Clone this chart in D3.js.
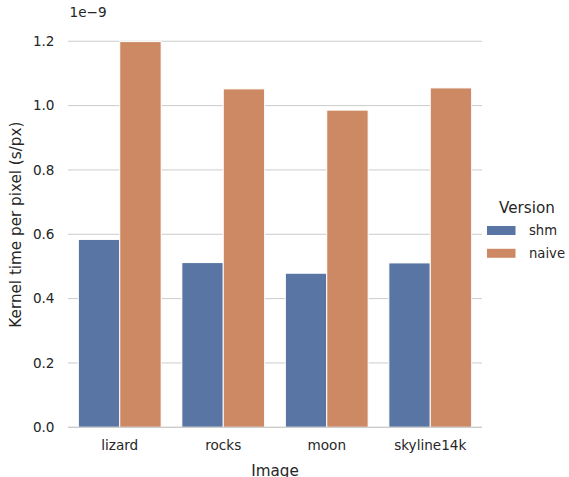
<!DOCTYPE html>
<html>
<head>
<meta charset="utf-8">
<script src="https://cdn.jsdelivr.net/npm/d3@7"></script>
<style>
  body { margin: 0; background: #fff; overflow: hidden; }
  svg { font-family: "DejaVu Sans", sans-serif; display: block; }
</style>
</head>
<body>
<svg id="chart" width="569" height="477"></svg>
<script>
// Kernel time per pixel, in units of 1e-9 s/px
const images = ["lizard", "rocks", "moon", "skyline14k"];
const versions = ["shm", "naive"];
const shmValues = [0.584, 0.512, 0.479, 0.511];
const naiveValues = [1.199, 1.052, 0.986, 1.055];
const yTicks = [0.0, 0.2, 0.4, 0.6, 0.8, 1.0, 1.2];
const versionColors = ["#5975a4", "#cc8963"];

const rows = images.flatMap((img, i) => [
  { image: img, version: "shm", value: shmValues[i] },
  { image: img, version: "naive", value: naiveValues[i] }
]);

const svg = d3.select("#chart");
const plotLeft = 68, plotRight = 482, plotBottom = 427.3;
const yMax = 1.26;
const plotTop = plotBottom - yMax * 321.7;

const x = d3.scaleBand().domain(images).range([plotLeft, plotRight]).paddingInner(0.2).paddingOuter(0.1);
const xSub = d3.scaleBand().domain(versions).range([0, x.bandwidth()]);
const y = d3.scaleLinear().domain([0, yMax]).range([plotBottom, plotTop]);
const color = d3.scaleOrdinal().domain(versions).range(versionColors);

const tickFont = 13.6, labelFont = 15.2;

// horizontal grid
svg.append("g").selectAll("line").data(yTicks).join("line")
  .attr("x1", plotLeft).attr("x2", plotRight)
  .attr("y1", d => y(d)).attr("y2", d => y(d))
  .attr("stroke", "#cccccc").attr("stroke-width", 1);

// bars
svg.append("g").selectAll("rect").data(rows).join("rect")
  .attr("x", d => x(d.image) + xSub(d.version))
  .attr("y", d => y(d.value))
  .attr("width", xSub.bandwidth())
  .attr("height", d => y(0) - y(d.value))
  .attr("fill", d => color(d.version))
  .attr("stroke", "#ffffff").attr("stroke-width", 1);

// bottom spine
svg.append("line").attr("x1", plotLeft).attr("x2", plotRight)
  .attr("y1", plotBottom).attr("y2", plotBottom)
  .attr("stroke", "#cccccc").attr("stroke-width", 1.2);

// y axis (no spine, no tick marks)
const yAxis = d3.axisLeft(y).tickValues(yTicks).tickFormat(d3.format(".1f")).tickSize(0).tickPadding(13.5);
const gy = svg.append("g").attr("transform", `translate(${plotLeft},0)`).call(yAxis);
gy.select(".domain").remove();
gy.selectAll("text").attr("font-size", tickFont).attr("fill", "#262626")
  .attr("font-family", "DejaVu Sans, sans-serif");

// x axis
const xAxis = d3.axisBottom(x).tickSize(0).tickPadding(13.5);
const gx = svg.append("g").attr("transform", `translate(0,${plotBottom})`).call(xAxis);
gx.select(".domain").remove();
gx.selectAll("text").attr("font-size", tickFont).attr("fill", "#262626")
  .attr("font-family", "DejaVu Sans, sans-serif");

// offset text
svg.append("text").attr("x", 69.5).attr("y", 17).attr("font-size", tickFont)
  .attr("fill", "#262626").text("1e\u22129");

// axis labels
svg.append("text")
  .attr("transform", `translate(21,${(plotTop + plotBottom) / 2}) rotate(-90)`)
  .attr("text-anchor", "middle").attr("font-size", labelFont).attr("fill", "#262626")
  .text("Kernel time per pixel (s/px)");
svg.append("text").attr("x", (plotLeft + plotRight) / 2).attr("y", 476)
  .attr("text-anchor", "middle").attr("font-size", labelFont).attr("fill", "#262626")
  .text("Image");

// legend
const legend = svg.append("g");
legend.append("text").attr("x", 527).attr("y", 212.5).attr("text-anchor", "middle")
  .attr("font-size", labelFont).attr("fill", "#262626").text("Version");
versions.forEach((v, i) => {
  const ly = 230.5 + i * 22.8;
  legend.append("rect").attr("x", 487).attr("y", ly - 4.5).attr("width", 28.5).attr("height", 9)
    .attr("fill", color(v));
  legend.append("text").attr("x", 529).attr("y", ly + 4.8).attr("font-size", 13.2)
    .attr("fill", "#262626").text(v);
});
</script>
</body>
</html>
